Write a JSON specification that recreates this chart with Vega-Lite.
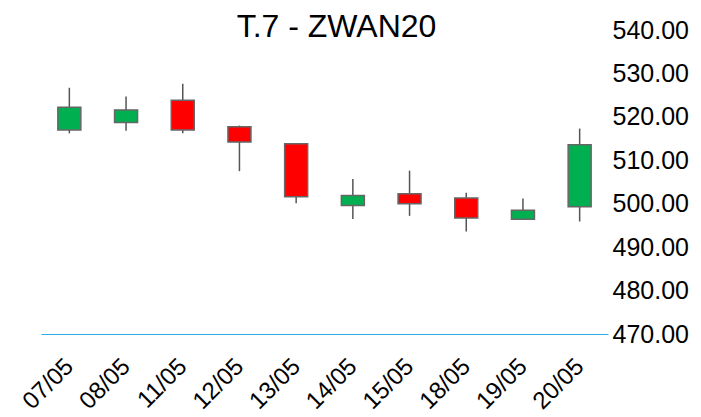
{
  "$schema": "https://vega.github.io/schema/vega-lite/v6.json",
  "width": 567,
  "height": 304,
  "autosize": "none",
  "padding": {"left": 41, "top": 30, "right": 93, "bottom": 83},
  "background": "white",
  "title": {"text": "T.7 - ZWAN20", "fontSize": 32, "font": "Liberation Sans", "fontWeight": "normal", "color": "#000000", "anchor": "middle", "baseline": "alphabetic", "offset": 0, "dx": 12, "dy": 51},
  "config": {"view": {"stroke": null}, "font": "Liberation Sans"},
  "data": {"values": [
    {"date": "07/05", "open": 517.0, "close": 522.2, "high": 526.7, "low": 516.2, "dir": "up"},
    {"date": "08/05", "open": 518.7, "close": 521.6, "high": 524.7, "low": 516.8, "dir": "up"},
    {"date": "11/05", "open": 523.8, "close": 517.0, "high": 527.6, "low": 516.2, "dir": "down"},
    {"date": "12/05", "open": 517.7, "close": 514.2, "high": 518.0, "low": 507.5, "dir": "down"},
    {"date": "13/05", "open": 513.8, "close": 501.6, "high": 513.8, "low": 500.1, "dir": "down"},
    {"date": "14/05", "open": 499.6, "close": 501.9, "high": 505.7, "low": 496.5, "dir": "up"},
    {"date": "15/05", "open": 502.3, "close": 500.0, "high": 507.6, "low": 497.2, "dir": "down"},
    {"date": "18/05", "open": 501.3, "close": 496.7, "high": 502.5, "low": 493.6, "dir": "down"},
    {"date": "19/05", "open": 496.4, "close": 498.5, "high": 501.2, "low": 496.3, "dir": "up"},
    {"date": "20/05", "open": 499.3, "close": 513.6, "high": 517.3, "low": 495.9, "dir": "up"}
  ]},
  "encoding": {
    "x": {"field": "date", "type": "ordinal", "sort": null, "title": null,
      "scale": {"paddingInner": 0, "paddingOuter": 0},
      "axis": {"labelAngle": -45, "labelFontSize": 24, "labelColor": "#000000", "ticks": false, "domainColor": "#2aaee3", "domainWidth": 1.2, "labelPadding": 20, "labelOffset": -8, "labelOverlap": false, "labelBound": false}}
  },
  "layer": [
    {
      "mark": {"type": "rule", "color": "#555555", "strokeWidth": 1.5},
      "encoding": {
        "y": {"field": "low", "type": "quantitative", "title": null,
          "scale": {"domain": [470, 540], "nice": false, "zero": false},
          "axis": {"orient": "right", "grid": false, "ticks": false, "domain": false, "format": ".2f", "values": [470, 480, 490, 500, 510, 520, 530, 540], "labelFontSize": 25, "labelColor": "#000000", "labelPadding": 4}},
        "y2": {"field": "high"}
      }
    },
    {
      "mark": {"type": "bar", "size": 23, "stroke": "#666666", "strokeWidth": 1.5},
      "encoding": {
        "y": {"field": "open", "type": "quantitative"},
        "y2": {"field": "close"},
        "color": {"field": "dir", "type": "nominal", "legend": null,
          "scale": {"domain": ["up", "down"], "range": ["#00b050", "#ff0000"]}}
      }
    }
  ]
}
